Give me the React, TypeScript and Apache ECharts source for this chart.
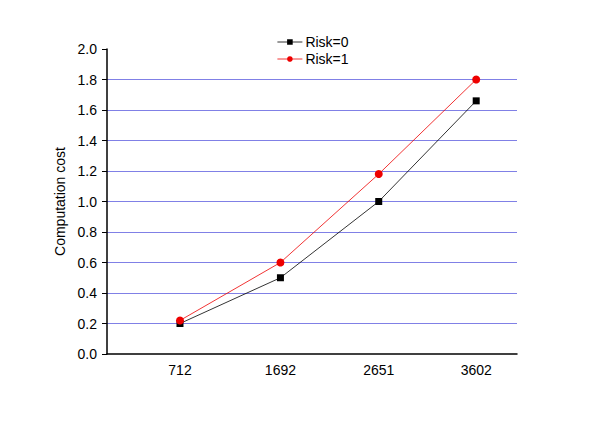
import React, { useEffect, useRef } from "react";
import * as echarts from "echarts";

const xValues = [712, 1692, 2651, 3602];
const risk0 = [0.2, 0.5, 1.0, 1.66];
const risk1 = [0.22, 0.6, 1.18, 1.8];
const seriesNames = ["Risk=0", "Risk=1"];
const yAxisName = "Computation cost";

const FONT = "Liberation Sans, Arial, sans-serif";

export default function App() {
  const ref = useRef<HTMLDivElement>(null);
  useEffect(() => {
    if (!ref.current) return;
    const chart = echarts.init(ref.current, null, { renderer: "svg" });
    chart.setOption({
      animation: false,
      backgroundColor: "#ffffff",
      textStyle: { fontFamily: FONT },
      legend: {
        data: seriesNames,
        orient: "vertical",
        left: 272,
        top: 30,
        itemWidth: 25,
        itemHeight: 7,
        itemGap: 3,
        lineStyle: { width: 0.8 },
        textStyle: { fontSize: 14, color: "#000", fontFamily: FONT, padding: [0, 0, 0, -2] },
      },
      grid: { left: 107, right: 83, top: 49, bottom: 70 },
      xAxis: {
        type: "value",
        min: 0,
        max: 4000,
        axisLine: { show: true, lineStyle: { color: "#000", width: 1.5 } },
        axisTick: { show: false },
        axisLabel: { show: false },
        splitLine: { show: false },
      },
      yAxis: {
        type: "value",
        min: 0,
        max: 2,
        interval: 0.2,
        name: yAxisName,
        nameLocation: "middle",
        nameGap: 40,
        nameTextStyle: { fontSize: 14, color: "#000", fontFamily: FONT },
        axisLine: { show: true, lineStyle: { color: "#000", width: 1.5 } },
        axisTick: { show: true, inside: false, length: 5, lineStyle: { color: "#000" } },
        axisLabel: {
          fontSize: 14,
          color: "#000",
          margin: 10,
          formatter: (v: number) => v.toFixed(1),
        },
        splitLine: {
          show: true,
          showMinLine: false,
          showMaxLine: false,
          lineStyle: { color: "#8080e6", width: 1 },
        },
      },
      series: [
        {
          name: seriesNames[0],
          type: "line",
          data: xValues.map((x, i) => [x, risk0[i]]),
          symbol: "rect",
          symbolSize: 7,
          itemStyle: { color: "#000" },
          lineStyle: { color: "#000", width: 0.8 },
          z: 3,
        },
        {
          name: seriesNames[1],
          type: "line",
          data: xValues.map((x, i) => [x, risk1[i]]),
          symbol: "circle",
          symbolSize: 8,
          itemStyle: { color: "#ee0000" },
          lineStyle: { color: "#ee0000", width: 0.8 },
          z: 4,
        },
        {
          name: "xlabels",
          type: "scatter",
          data: xValues.map((x) => [x, 0]),
          symbolSize: 0,
          clip: false,
          silent: true,
          label: {
            show: true,
            position: "bottom",
            distance: 9,
            fontSize: 14,
            color: "#000",
            opacity: 1,
            fontFamily: FONT,
            formatter: (p: any) => String(p.value[0]),
          },
        },
      ],
    });
    return () => chart.dispose();
  }, []);
  return <div ref={ref} style={{ width: 600, height: 424, position: "absolute", left: 0, top: 0 }} />;
}
